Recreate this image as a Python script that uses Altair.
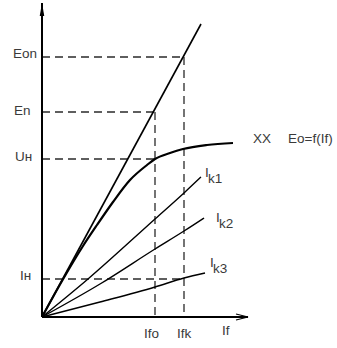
import altair as alt
import pandas as pd

# ---- values (If along x, E along y) ----
if_o = 113
if_k = 142
e_on = 260
e_n = 205
u_n = 158
i_n = 38

# air-gap (straight) line
line_x = [0, 159]
line_y = [0, 293]

# no-load characteristic Eo=f(If)
xx_x = [0, 20, 41, 55, 71, 88, 105, 113, 128, 141, 165, 191]
xx_y = [0, 36, 71, 92, 115, 137, 152, 158, 164, 168, 172, 174]

# short-circuit characteristics
ik1_x = [0, 46, 113, 142, 159]
ik1_y = [0, 38, 98, 124, 140]
ik2_x = [0, 58, 113, 142, 162]
ik2_y = [0, 33, 68, 86, 99]
ik3_x = [0, 58, 113, 142, 163]
ik3_y = [0, 15, 30, 39, 44]

axis_x_end = 206
axis_y_end = 314

FONT = "Liberation Sans"
TXT = "#3a3a3a"

xs = alt.Scale(domain=[-42, 295], range=[0, 337], nice=False, zero=False)
ys = alt.Scale(domain=[-31, 317], range=[348, 0], nice=False, zero=False)
X = lambda f: alt.X(f, type="quantitative", scale=xs, axis=None)
Y = lambda f: alt.Y(f, type="quantitative", scale=ys, axis=None)

# dashed guide segments
dash = pd.DataFrame({
    "x": [0, if_k, 0, if_o, 0, 0],
    "y": [e_on, e_on, e_n, e_n, u_n, i_n],
    "x2": [if_k, if_k, if_o, if_o, if_o, if_k],
    "y2": [e_on, 0, e_n, 0, u_n, i_n],
})
dashed = alt.Chart(dash).mark_rule(
    color="#2a2a2a", strokeWidth=1.3, strokeDash=[8, 5]
).encode(x=X("x"), y=Y("y"), x2="x2", y2="y2")

axes_df = pd.DataFrame({"x": [0, 0], "y": [0, 0],
                        "x2": [axis_x_end, 0], "y2": [0, axis_y_end]})
axes = alt.Chart(axes_df).mark_rule(color="black", strokeWidth=2).encode(
    x=X("x"), y=Y("y"), x2="x2", y2="y2")

arrow_x = alt.Chart(pd.DataFrame({"x": [axis_x_end], "y": [0]})).mark_point(
    shape="M-2,-0.5L0,0L-2,0.5", size=144, filled=False, color="black",
    strokeWidth=1.1, opacity=1).encode(x=X("x"), y=Y("y"))
arrow_y = alt.Chart(pd.DataFrame({"x": [0], "y": [axis_y_end]})).mark_point(
    shape="M0,0L-0.35,2L0.35,2Z", size=169, filled=True, color="black",
    opacity=1).encode(x=X("x"), y=Y("y"))

straight = alt.Chart(pd.DataFrame({"x": line_x, "y": line_y})).mark_line(
    color="black", strokeWidth=1.6).encode(x=X("x"), y=Y("y"))

curve = alt.Chart(pd.DataFrame({"x": xx_x, "y": xx_y})).mark_line(
    color="black", strokeWidth=2.2, interpolate="monotone").encode(
    x=X("x"), y=Y("y"))

ik_rows = []
for name, xv, yv in [("k1", ik1_x, ik1_y), ("k2", ik2_x, ik2_y), ("k3", ik3_x, ik3_y)]:
    for a, b in zip(xv, yv):
        ik_rows.append({"s": name, "x": a, "y": b})
ik = alt.Chart(pd.DataFrame(ik_rows)).mark_line(
    color="black", strokeWidth=1.4, interpolate="monotone").encode(
    x=X("x"), y=Y("y"), detail="s:N")

labels = pd.DataFrame({
    "t": ["Eon", "En", "Uн", "Iн", "Ifo", "Ifk", "If", "XX", "Eo=f(If)",
          "I", "I", "I", "k1", "k2", "k3"],
    "x": [-29, -28, -27, -22, 102, 135, 180, 211, 246,
          163, 174, 168, 166, 177, 171],
    "y": [263, 206.5, 160, 41, -17, -17, -14, 178, 178,
          144.5, 99.5, 54.5, 138, 93, 48],
})
text = alt.Chart(labels).mark_text(
    align="left", baseline="middle", font=FONT, fontSize=13.5, color=TXT
).encode(x=X("x"), y=Y("y"), text="t:N")

chart = alt.layer(dashed, axes, arrow_x, arrow_y, straight, curve, ik, text).properties(
    width=337, height=348, padding=0, autosize=alt.AutoSizeParams(type="none"),
    background="white"
).configure_view(stroke=None)

chart.save("out.html", embed_options={"renderer": "svg", "actions": False})
